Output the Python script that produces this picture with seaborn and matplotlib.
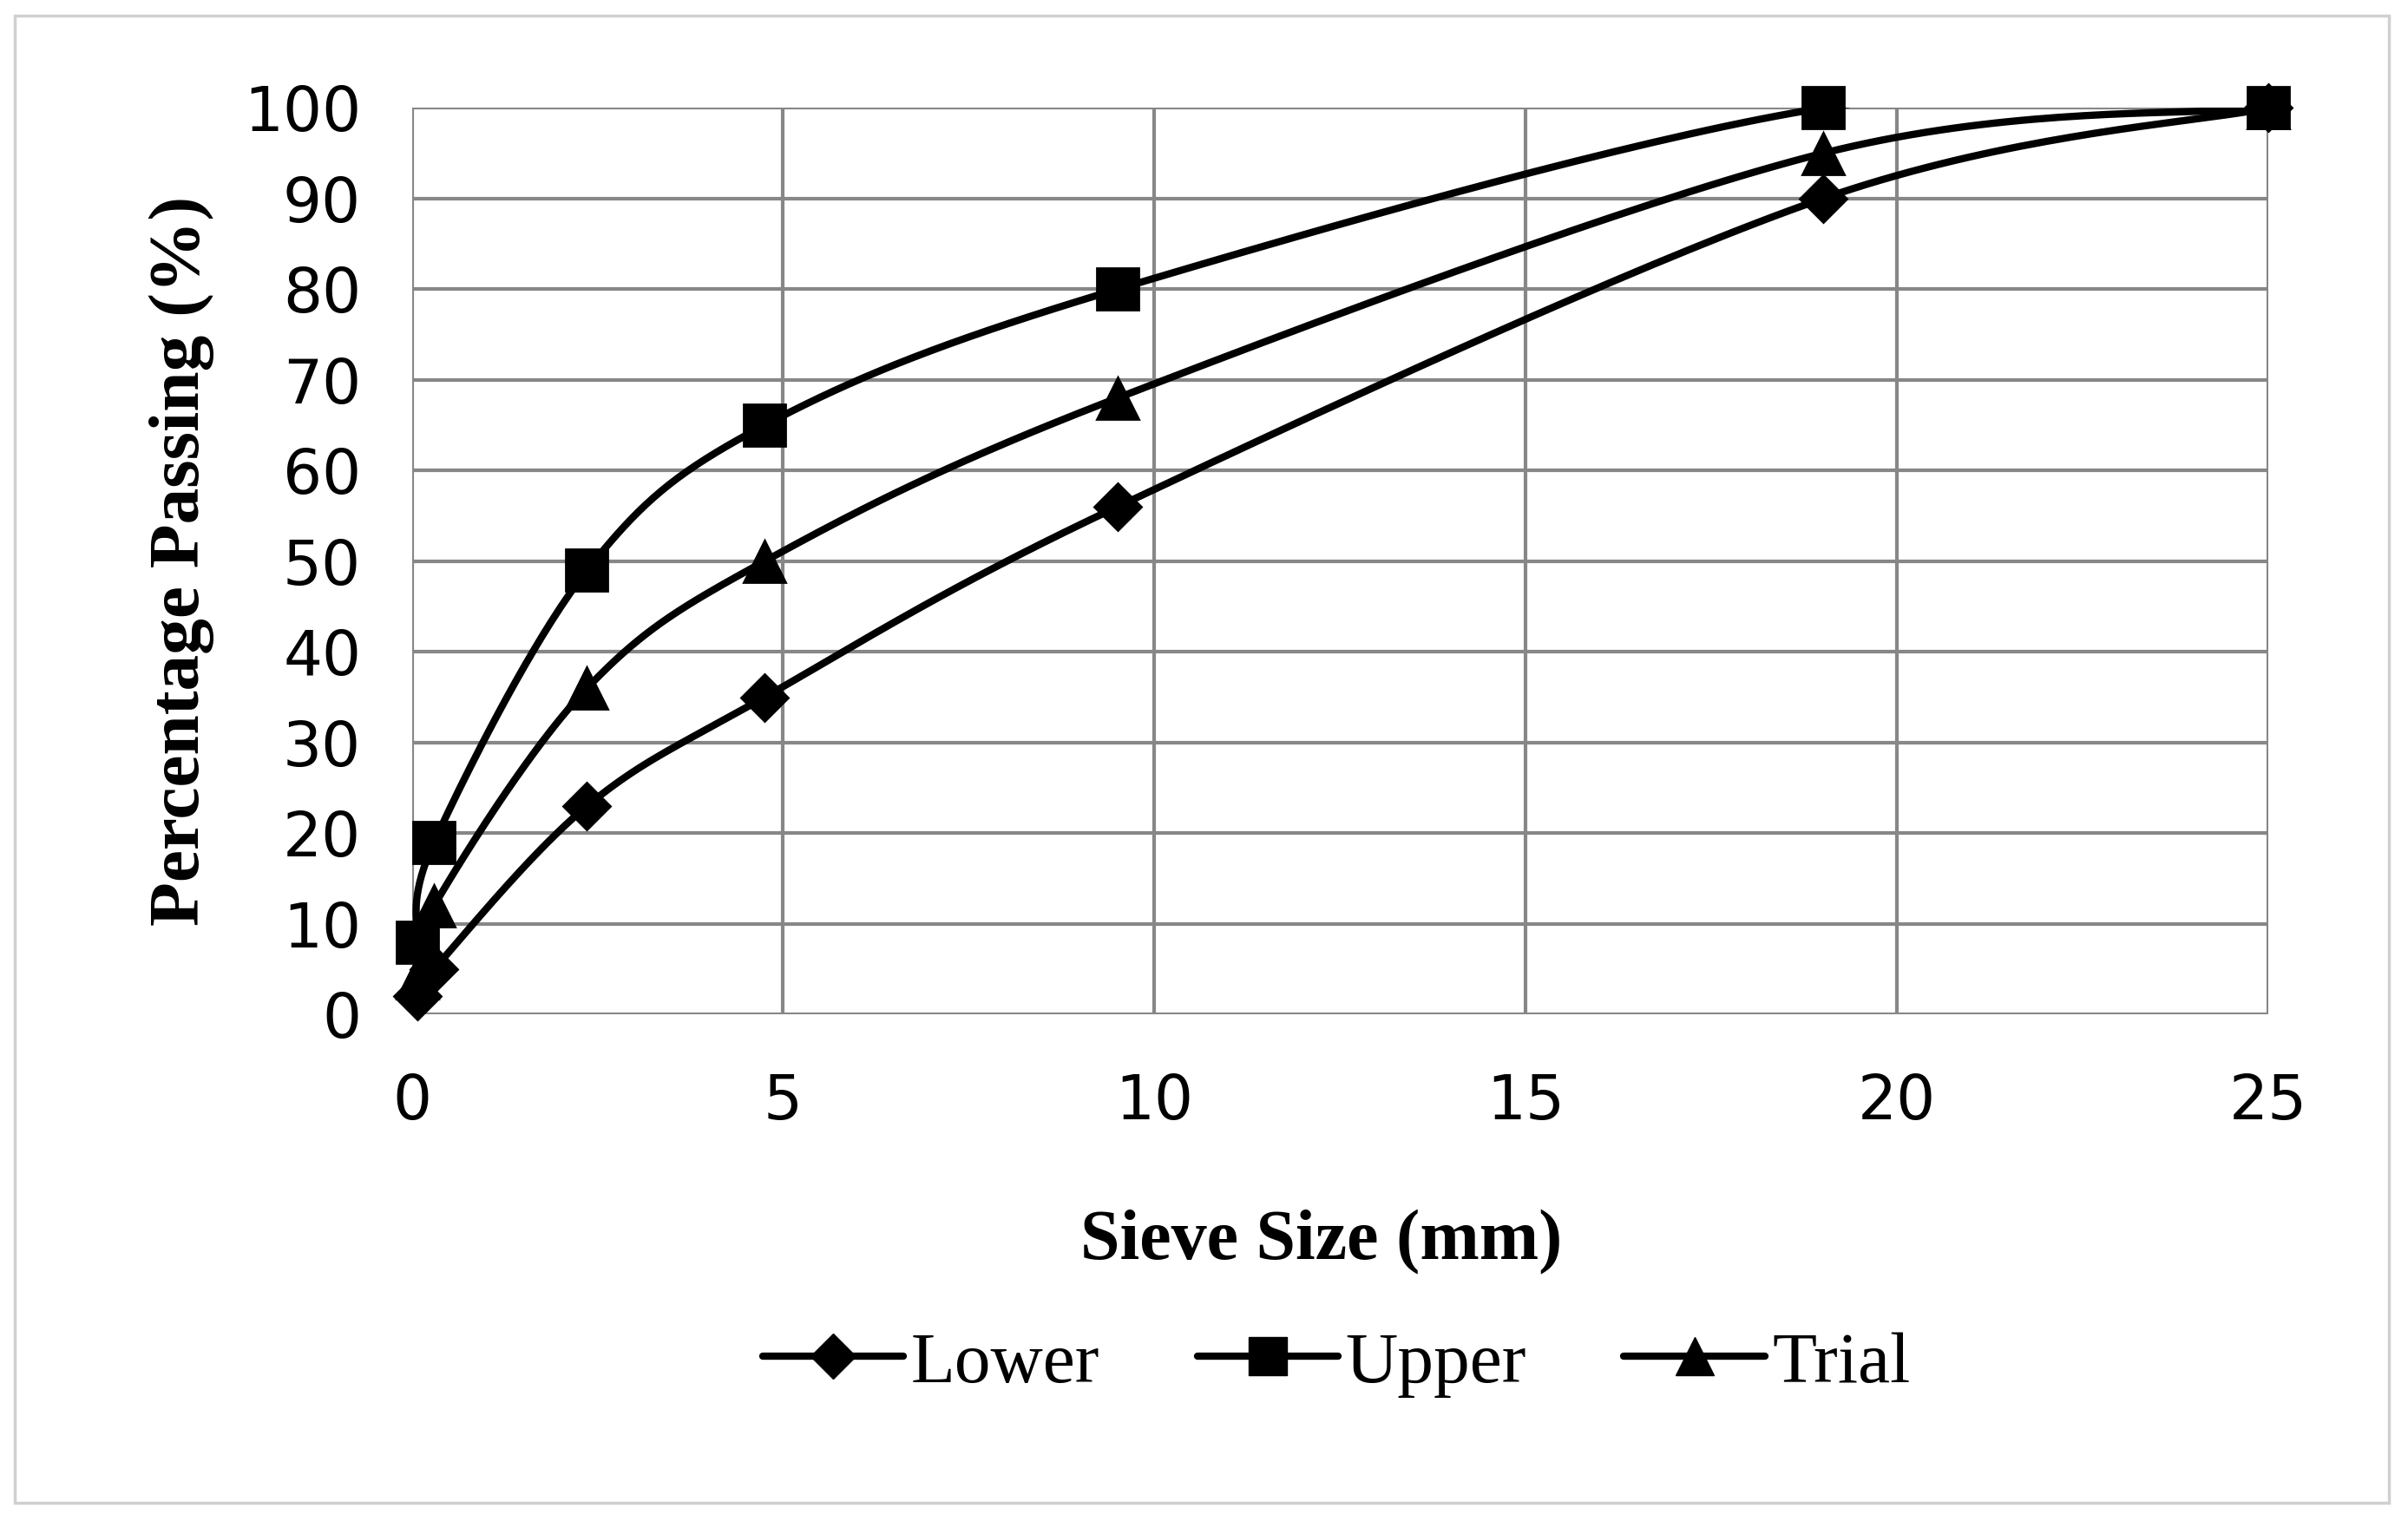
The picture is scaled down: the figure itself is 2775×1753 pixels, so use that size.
import numpy as np
import pandas as pd
import matplotlib
matplotlib.use("Agg")
import matplotlib.pyplot as plt
import seaborn as sns
from matplotlib.lines import Line2D
from matplotlib.patches import Rectangle

# sieve sizes (mm) and percentage passing
sieve = [0.075, 0.3, 2.36, 4.75, 9.5, 19, 25]
lower = [2, 5, 23, 35, 56, 90, 100]
upper = [8, 19, 49, 65, 80, 100, 100]
trial = [4, 12, 36, 50, 68, 95, 100]

series_names = ["Lower", "Upper", "Trial"]
series_vals = [lower, upper, trial]
series_markers = ["D", "s", "^"]
marker_sizes = [28, 34, 34]


def smooth(xs, ys, n=40, sx=85.6, sy=10.4):
    # excel-like smoothed line (catmull-rom bezier in screen-ish space)
    p = np.column_stack([np.array(xs) * sx, np.array(ys) * sy])
    p = np.vstack([p[0], p, p[-1]])
    out = []
    t = np.linspace(0, 1, n)[:, None]
    for i in range(1, len(p) - 2):
        p0, p1, p2, p3 = p[i - 1], p[i], p[i + 1], p[i + 2]
        c1 = p1 + (p2 - p0) / 6
        c2 = p2 - (p3 - p1) / 6
        seg = ((1 - t) ** 3) * p1 + 3 * ((1 - t) ** 2) * t * c1 + 3 * (1 - t) * t ** 2 * c2 + t ** 3 * p2
        out.append(seg)
    out = np.vstack(out)
    return out[:, 0] / sx, out[:, 1] / sy


sns.set_theme(style="white")
plt.rcParams['font.family'] = ['DejaVu Sans']
plt.rcParams['text.color'] = 'black'
plt.rcParams['axes.labelcolor'] = 'black'

fig = plt.figure(figsize=(27.75, 17.53), dpi=100)
ax = fig.add_axes([0.171, 0.333, 0.771, 0.596])

curve_rows = []
for name, vals in zip(series_names, series_vals):
    cx, cy = smooth(sieve, vals)
    curve_rows.append(pd.DataFrame({"x": cx, "y": cy, "series": name, "order": np.arange(len(cx))}))
curves = pd.concat(curve_rows, ignore_index=True)

sns.lineplot(data=curves, x="x", y="y", units="series", estimator=None, sort=False,
             color="black", linewidth=6, ax=ax, legend=False, zorder=3)

for name, vals, m, ms in zip(series_names, series_vals, series_markers, marker_sizes):
    ax.plot(sieve, vals, linestyle="none", marker=m, markersize=ms, color="black",
            markeredgewidth=2, markeredgecolor="black", zorder=4, clip_on=False)

ax.set_xlim(0, 25)
ax.set_ylim(0, 100)
ax.set_xticks(range(0, 26, 5))
ax.set_yticks(range(0, 101, 10))
ax.grid(True, color="#878787", linewidth=3)
ax.set_axisbelow(True)
for s in ax.spines.values():
    s.set_visible(False)
ax.tick_params(axis="both", length=0, labelsize=51, colors="black")
ax.tick_params(axis="x", pad=48)
ax.tick_params(axis="y", pad=42)

ax.set_xlabel("Sieve Size (mm)", fontsize=59, fontweight="bold", family="Liberation Serif")
ax.set_ylabel("Percentage Passing (%)", fontsize=60, fontweight="bold", family="Liberation Serif")
ax.xaxis.set_label_coords(0.49, -0.251)
ax.xaxis.label.set_va("center")
ax.yaxis.set_label_coords(-0.124, 0.5)
ax.yaxis.label.set_va("center")

handles = [Line2D([0], [0], color="black", linewidth=6, marker=m, markersize=ms * 0.95)
           for m, ms in zip(series_markers, marker_sizes)]
leg = fig.legend(handles, series_names, loc="center", bbox_to_anchor=(0.555, 0.103), ncol=3,
                 frameon=False, handlelength=1.95, handletextpad=0.1, columnspacing=1.35,
                 prop={"family": "Liberation Serif", "size": 60})

fig.patches.append(Rectangle((0.006, 0.012), 0.986, 0.978, transform=fig.transFigure,
                             fill=False, edgecolor="#d0d0d0", linewidth=2.5))

fig.savefig("out.png", dpi=100, facecolor="white")
